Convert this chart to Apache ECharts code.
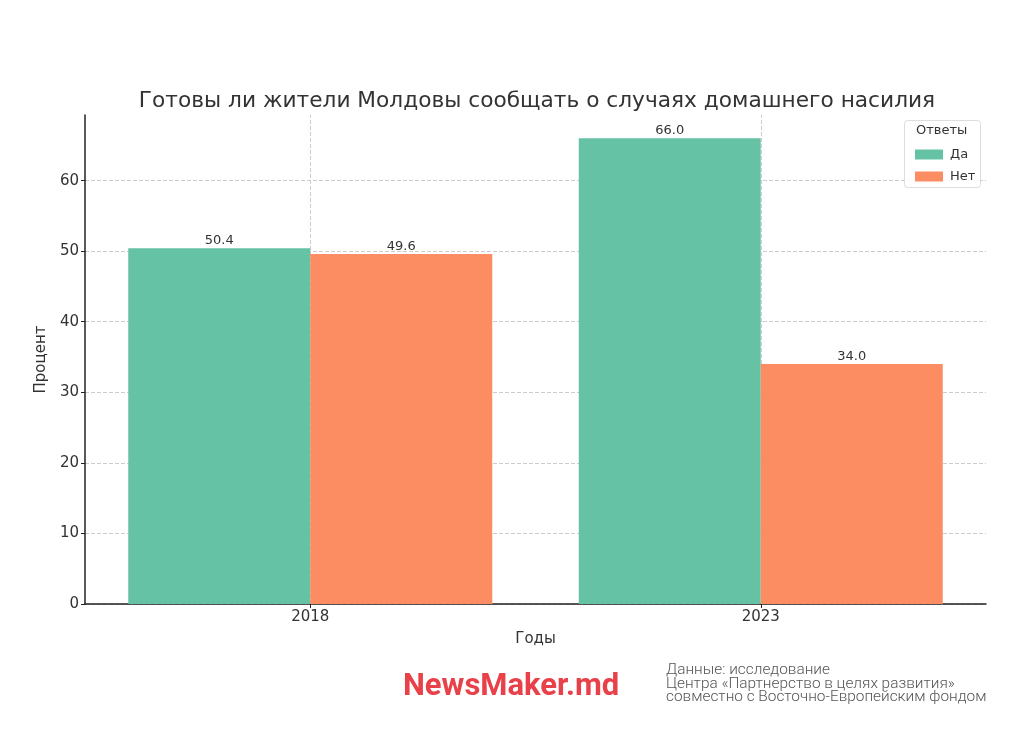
<!DOCTYPE html>
<html><head><meta charset="utf-8">
<script src="https://cdn.jsdelivr.net/npm/echarts@6/dist/echarts.min.js"></script>
<style>html,body{margin:0;padding:0;background:#fff}#c{width:1024px;height:737px}</style>
</head><body><div id="c"></div>
<script>
const categories = ['2018', '2023'];
const seriesNames = ['Да', 'Нет'];
const yesValues = [50.4, 66.0];
const noValues = [49.6, 34.0];
const colors = ['#66c2a5', '#fc8d62'];

const chart = echarts.init(document.getElementById('c'));
const font = 'DejaVu Sans';
const labelCfg = {show: true, position: 'top', distance: 1, color: '#333', fontFamily: font, fontSize: 13,
  formatter: p => p.value.toFixed(1)};
chart.setOption({
  animation: false,
  backgroundColor: '#fff',
  title: {text: 'Готовы ли жители Молдовы сообщать о случаях домашнего насилия', left: 532, top: 85, textAlign: 'center',
    textStyle: {fontFamily: font, fontSize: 21.7, fontWeight: 'normal', color: '#333'}},
  grid: {left: 85, right: 38, top: 115, bottom: 133},
  legend: {orient: 'vertical', left: 910, top: 143, itemWidth: 28, itemHeight: 10, itemGap: 9, icon: 'rect',
    textStyle: {fontFamily: font, fontSize: 13, color: '#333', padding: [0,0,0,2]}, data: seriesNames},
  xAxis: {type: 'category', data: categories,
    axisLine: {lineStyle: {color: '#222', width: 1.5}},
    axisTick: {show: true, alignWithLabel: true, length: 4, lineStyle: {color: '#222'}},
    axisLabel: {fontFamily: font, fontSize: 15, color: '#333', margin: 6},
    splitLine: {show: false},
    name: 'Годы', nameLocation: 'middle', nameGap: 28,
    nameTextStyle: {fontFamily: font, fontSize: 15, color: '#333'}},
  yAxis: {type: 'value', min: 0, max: 69.3, interval: 10,
    axisLine: {show: true, lineStyle: {color: '#222', width: 1.5}},
    axisTick: {show: true, length: 4, lineStyle: {color: '#222'}},
    axisLabel: {fontFamily: font, fontSize: 15, color: '#333', margin: 6, showMaxLabel: false},
    splitLine: {show: true, showMaxLine: false, lineStyle: {color: '#ccc', type: 'dashed'}},
    name: 'Процент', nameLocation: 'middle', nameGap: 32,
    nameTextStyle: {fontFamily: font, fontSize: 15, color: '#333'}},
  series: [
    {name: 'grid', type: 'line', data: [], z: 0, silent: true,
      markLine: {silent: true, z: 0, symbol: 'none', label: {show: false}, animation: false,
        lineStyle: {color: '#ccc', type: 'dashed', width: 1},
        data: categories.map(c => ({xAxis: c}))}},
    {name: seriesNames[0], type: 'bar', data: yesValues, barWidth: 182, barGap: '0%', z: 3, itemStyle: {color: colors[0]}, label: labelCfg},
    {name: seriesNames[1], type: 'bar', data: noValues, barWidth: 182, barGap: '0%', z: 3, itemStyle: {color: colors[1]}, label: labelCfg}
  ],
  graphic: [
    {type: 'rect', left: 904, top: 120, shape: {width: 76, height: 67, r: 3}, z: 1,
      style: {fill: 'rgba(255,255,255,0.85)', stroke: '#ddd', lineWidth: 1}},
    {type: 'text', left: 916, top: 124, z: 2, style: {text: 'Ответы', fontFamily: font, fontSize: 13, fill: '#333'}},
    {type: 'text', left: 403, top: 672, style: {text: 'NewsMaker.md', fontFamily: 'Roboto', fontWeight: 'bold', fontSize: 31, fill: '#e8414a'}},
    {type: 'text', left: 666, top: 663, style: {text: 'Данные: исследование\nЦентра «Партнерство в целях развития»\nсовместно с Восточно-Европейским фондом',
      fontFamily: 'Roboto', fontWeight: 300, fontSize: 15.4, lineHeight: 13.5, fill: '#555'}}
  ]
});
</script></body></html>
